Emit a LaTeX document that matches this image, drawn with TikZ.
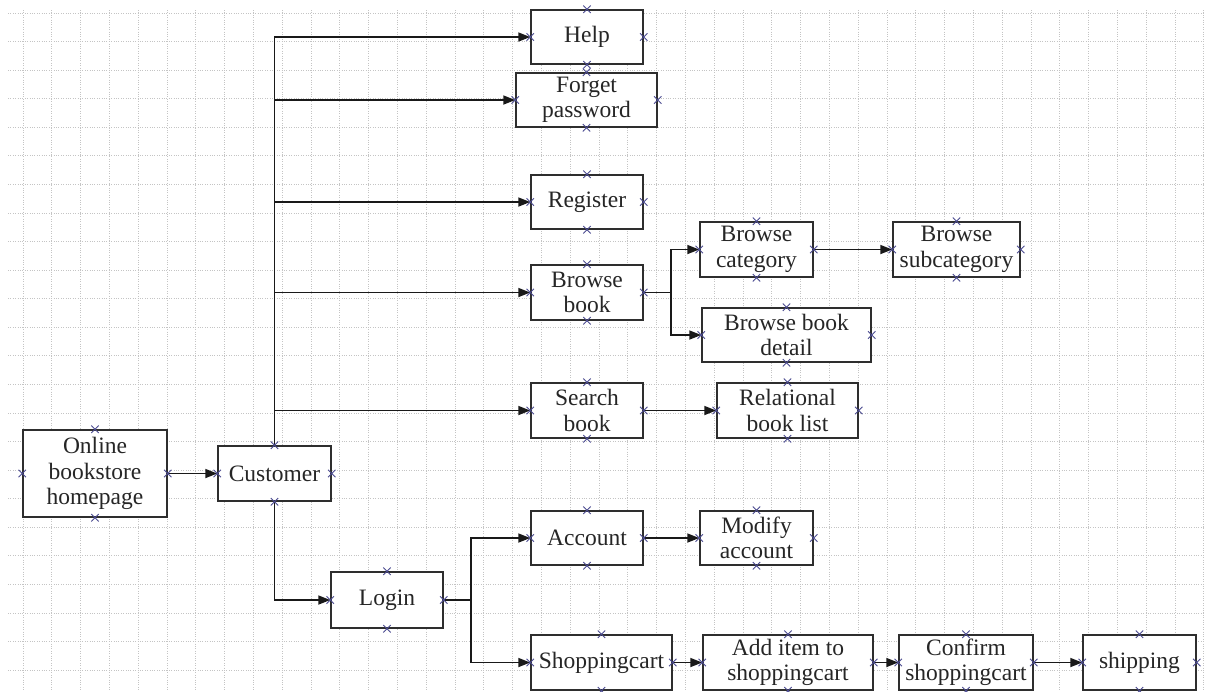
\documentclass[tikz,border=0pt]{standalone}
\usepackage{fontspec}
\setmainfont{Liberation Serif}
\usetikzlibrary{arrows.meta,shapes.misc,calc}

\definecolor{gridcol}{HTML}{C4C4C4}
\definecolor{edgecol}{HTML}{2E2E2E}
\definecolor{markcol}{HTML}{4A4A90}

\tikzset{
  box/.style={draw=edgecol, line width=1.5pt, fill=white, align=center,
    inner sep=0pt, text=black!85,
    font=\fontsize{23.5}{25.5}\selectfont},
  link/.style={draw=black!90, line width=1.7pt,
    -{Triangle[length=12pt,width=9pt]}},
  plain/.style={draw=black!90, line width=1.7pt},
  cmark/.style={draw=markcol, cross out, minimum size=6.5pt, inner sep=0pt,
    line width=0.9pt},
  gridline/.style={gridcol, line width=0.9pt, dash pattern=on 1pt off 1.4pt},
}

% box given by centre, width and height (all in pt)
\newcommand\flowbox[6]{%
  \node[box, minimum width=#4pt, minimum height=#5pt] (#1) at (#2,#3) {#6};}
% connection markers on the four side midpoints of a box
\newcommand\sidemarks[1]{%
  \foreach \an in {north,south,east,west}{\node[cmark] at (#1.\an) {};}}

\begin{document}
\begin{tikzpicture}[x=1pt,y=-1pt]
\useasboundingbox (0,0) rectangle (1205,691);
\fill[white] (0,0) rectangle (1205,691);

% dotted background grid
\foreach \i in {0,...,41}{
  \draw[gridline] ({23+28.8*\i},10) -- ({23+28.8*\i},691);}
\foreach \j in {0,...,23}{
  \draw[gridline] (8,{13+28.57*\j}) -- (1205,{13+28.57*\j});}

% boxes
\flowbox{home}{95}{473.5}{144}{87}{Online\\bookstore\\homepage}
\flowbox{cust}{274.5}{473.5}{113}{55}{Customer}
\flowbox{help}{587}{37}{112}{54}{Help}
\flowbox{forget}{586.5}{100}{141}{54}{Forget\\password}
\flowbox{reg}{587}{202}{112}{54}{Register}
\flowbox{bbook}{587}{292.5}{112}{55}{Browse\\book}
\flowbox{bcat}{756.5}{249.5}{113}{55}{Browse\\category}
\flowbox{bsub}{956.5}{249.5}{127}{55}{Browse\\subcategory}
\flowbox{bdet}{786.5}{335}{169}{54}{Browse book\\detail}
\flowbox{search}{587}{410.5}{112}{55}{Search\\book}
\flowbox{rel}{787.5}{410.5}{141}{55}{Relational\\book list}
\flowbox{login}{387}{600}{112}{56}{Login}
\flowbox{acct}{587}{538}{112}{54}{Account}
\flowbox{modify}{756.5}{538}{113}{54}{Modify\\account}
\flowbox{cart}{601.5}{662.5}{141}{55}{Shoppingcart}
\flowbox{add}{788}{662.5}{170}{55}{Add item to\\shoppingcart}
\flowbox{confirm}{966}{662.5}{134}{55}{Confirm\\shoppingcart}
\flowbox{ship}{1139.5}{662.5}{113}{55}{shipping}

% connectors
\draw[link] (home.east) -- (cust.west);

\draw[link] (cust.north) |- (help.west);
\draw[link] (cust.north |- forget.west) -- (forget.west);
\draw[link] (cust.north |- reg.west) -- (reg.west);
\draw[link] (cust.north |- bbook.west) -- (bbook.west);
\draw[link] (cust.north |- search.west) -- (search.west);

\coordinate (bj) at ($(bbook.east)+(27,0)$);
\draw[plain] (bbook.east) -- (bj);
\draw[link] (bj) |- (bcat.west);
\draw[link] (bj) |- (bdet.west);
\draw[link] (bcat.east) -- (bsub.west);
\draw[link] (search.east) -- (rel.west);

\draw[link] (cust.south) |- (login.west);
\coordinate (lj) at ($(login.east)+(27,0)$);
\draw[plain] (login.east) -- (lj);
\draw[link] (lj) |- (acct.west);
\draw[link] (lj) |- (cart.west);
\draw[link] (acct.east) -- (modify.west);
\draw[link] (cart.east) -- (add.west);
\draw[link] (add.east) -- (confirm.west);
\draw[link] (confirm.east) -- (ship.west);

% connection markers
\foreach \b in {home,cust,help,forget,reg,bbook,bcat,bsub,bdet,search,rel,
                login,acct,modify,cart,add,confirm,ship}{\sidemarks{\b}}
\end{tikzpicture}
\end{document}
